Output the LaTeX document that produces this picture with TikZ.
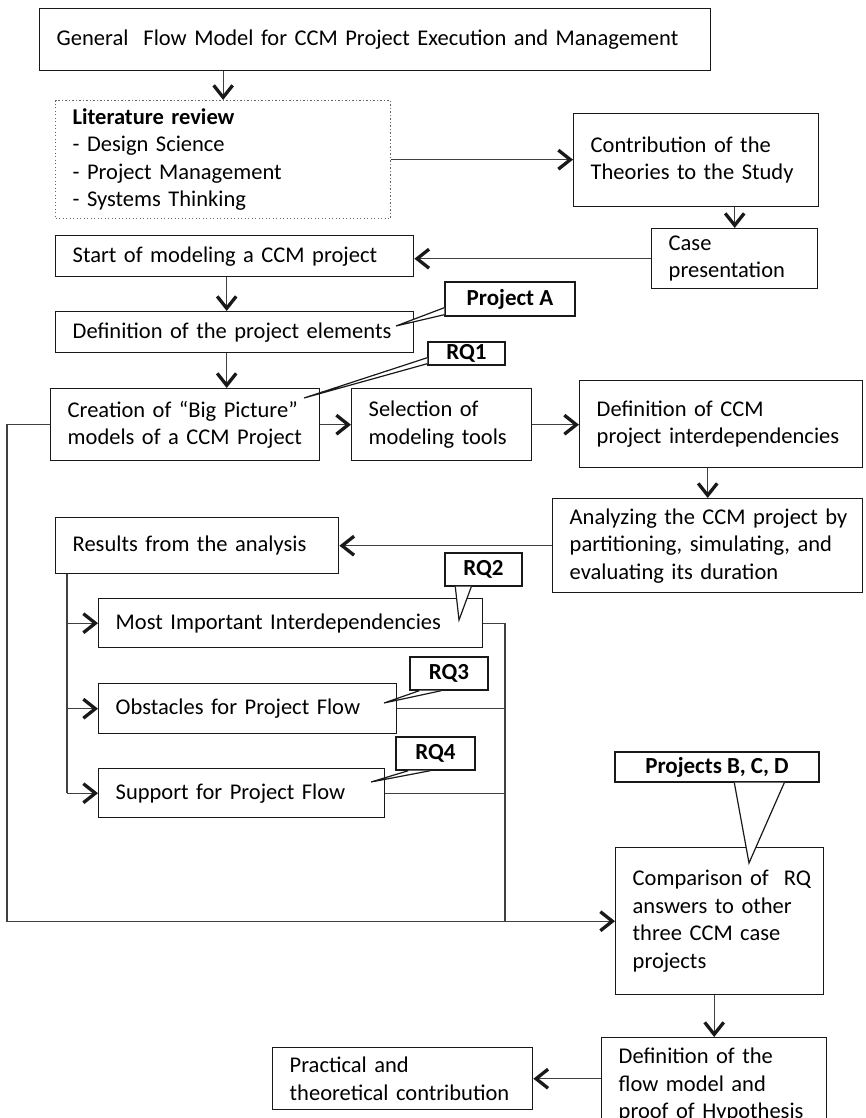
\documentclass[tikz,border=0pt]{standalone}
\usepackage{fontspec}
\setmainfont{Carlito}
\usetikzlibrary{arrows.meta,calc}

\begin{document}
\begin{tikzpicture}[x=1pt,y=-1pt,
  every node/.style={font=\fontsize{22.5}{27.5}\selectfont, text=black},
  box/.style={draw=black!90, line width=1.4pt, rectangle, anchor=north west,
    align=left, inner xsep=17pt, inner ysep=1pt, fill=white},
  dotbox/.style={box, draw=black!60, line width=1.3pt, dash pattern=on 1.3pt off 2.2pt},
  tag/.style={draw=black!90, line width=1.4pt, rectangle, fill=white, inner sep=0pt,
    font=\fontsize{23}{27.5}\selectfont\bfseries},
  wedge/.style={draw=black!90, line width=1.2pt, fill=white, line join=miter},
  link/.style={draw=black!75, line width=1.3pt},
  arr/.style={link, -{Straight Barb[length=12pt,width=19pt,line width=3.3pt,color=black!90]}}
]
\path[use as bounding box, clip] (0,0) rectangle (866,1118);

% ---- main boxes ----
\node[box, text width=637pt, minimum height=62pt] (title) at (39,8)
  {General~ Flow~Model~for~CCM~Project~Execution~and~Management};
\node[dotbox, text width=301pt, minimum height=118pt] (lit) at (55,100)
  {\textbf{Literature review}\\- Design Science\\- Project Management\\- Systems Thinking};
\node[box, text width=211pt, minimum height=93pt] (contrib) at (573,113)
  {Contribution~of~the\\Theories~to~the~Study};
\node[box, text width=132pt, minimum height=60pt] (case) at (651,228)
  {Case\\presentation};
\node[box, text width=324pt, minimum height=41pt] (start) at (55,235)
  {Start of modeling a CCM project};
\node[box, text width=324pt, minimum height=41pt] (defel) at (55,311)
  {Definition of the project elements};
\node[box, text width=235pt, minimum height=72pt] (creation) at (50,388)
  {Creation~of~“Big~Picture”\\models~of~a~CCM~Project};
\node[box, text width=146pt, minimum height=72pt] (select) at (351,388)
  {Selection of\\modeling tools};
\node[box, text width=249pt, minimum height=87pt] (defccm) at (579,380)
  {Definition of CCM\\project~interdependencies};
\node[box, text width=276pt, minimum height=94pt] (analyze) at (552,498)
  {Analyzing~the~CCM~project~by\\partitioning,~simulating,~and\\evaluating~its~duration};
\node[box, text width=249pt, minimum height=56pt] (results) at (55,517)
  {Results from the analysis};
\node[box, text width=350pt, minimum height=49pt] (most) at (98,598)
  {Most~Important~Interdependencies};
\node[box, text width=264pt, minimum height=50pt] (obst) at (98,683)
  {Obstacles for Project Flow};
\node[box, text width=252pt, minimum height=49pt] (supp) at (98,768)
  {Support for Project Flow};
\node[box, text width=174pt, minimum height=147pt] (comp) at (615,847)
  {Comparison~of~~RQ\\answers~to~other\\three~CCM~case\\projects};
\node[box, text width=191pt, minimum height=95pt] (defflow) at (601,1037)
  {Definition~of~the\\flow~model~and\\proof~of~Hypothesis};
\node[box, text width=226pt, minimum height=62pt] (pract) at (272,1047)
  {Practical and\\theoretical~contribution};

% ---- connectors ----
\draw[arr] (title.south -| lit.north) -- (lit.north);
\draw[arr] (lit.east) -- (lit.east -| contrib.west);
\draw[arr] (contrib.south -| case.north) -- (case.north);
\draw[arr] (case.west) -- (case.west -| start.east);
\draw[arr] ([xshift=-8pt]start.south) -- ([xshift=-8pt]defel.north);
\draw[arr] ([xshift=-8pt]defel.south) -- ([xshift=-8pt]defel.south |- creation.north);
\draw[arr] (creation.east) -- (select.west);
\draw[arr] (select.east) -- (select.east -| defccm.west);
\draw[arr] (defccm.south -| analyze.north) -- (analyze.north);
\draw[arr] (analyze.west) -- (analyze.west -| results.east);

% branches from the results box
\coordinate (rb) at ($(results.south west)+(12,0)$);
\draw[link] (rb) -- (rb |- supp.west);
\draw[arr] (rb |- most.west) -- (most.west);
\draw[arr] (rb |- obst.west) -- (obst.west);
\draw[arr] (rb |- supp.west) -- (supp.west);

% answers collected into the comparison
\coordinate (merge) at (505,0 |- comp.west);
\draw[link] (most.east) -- (merge |- most.east) -- (merge);
\draw[link] (obst.east) -- (merge |- obst.east);
\draw[link] (supp.east) -- (merge |- supp.east);
\coordinate (loop) at (7,0 |- comp.west);
\draw[arr] (creation.west) -| (loop) -- (comp.west);

\draw[arr] (comp.south -| defflow.north) -- (defflow.north);
\draw[arr] (defflow.west |- pract.east) -- (pract.east);

% ---- callouts ----
\node[tag, minimum width=130pt, minimum height=34pt] (pa) at (510,299) {Project A};
\coordinate (paTip) at (396,326);
\path[wedge] ($(pa.south west)+(0,-2)$) -- (paTip) -- ($(pa.south west)+(0,-9)$);

\node[tag, minimum width=77pt, minimum height=23pt] (rq1) at (466.5,353.5) {RQ1};
\coordinate (rq1Tip) at (304,398);
\path[wedge] ($(rq1.south west)+(0,-2)$) -- (rq1Tip) -- ($(rq1.south west)+(0,-8)$);

\node[tag, minimum width=77pt, minimum height=33pt] (rq2) at (483.5,569.5) {RQ2};
\coordinate (rq2Tip) at (459,620);
\path[wedge] ($(rq2.south west)+(11,0)$) -- (rq2Tip) -- ($(rq2.south west)+(27,0)$);

\node[tag, minimum width=78pt, minimum height=33pt] (rq3) at (449,673.5) {RQ3};
\coordinate (rq3Tip) at (384,703);
\path[wedge] ($(rq3.south west)+(10,0)$) -- (rq3Tip) -- ($(rq3.south west)+(32,0)$);

\node[tag, minimum width=79pt, minimum height=33pt] (rq4) at (435.5,753.5) {RQ4};
\coordinate (rq4Tip) at (371,782);
\path[wedge] ($(rq4.south west)+(13,0)$) -- (rq4Tip) -- ($(rq4.south west)+(35,0)$);

\node[tag, minimum width=204pt, minimum height=30pt] (pbcd) at (717,767) {Projects B, C, D};
\coordinate (pbcdTip) at (749,863);
\path[wedge] ($(pbcd.south west)+(120,0)$) -- (pbcdTip) -- ($(pbcd.south west)+(170,0)$);
\end{tikzpicture}
\end{document}
